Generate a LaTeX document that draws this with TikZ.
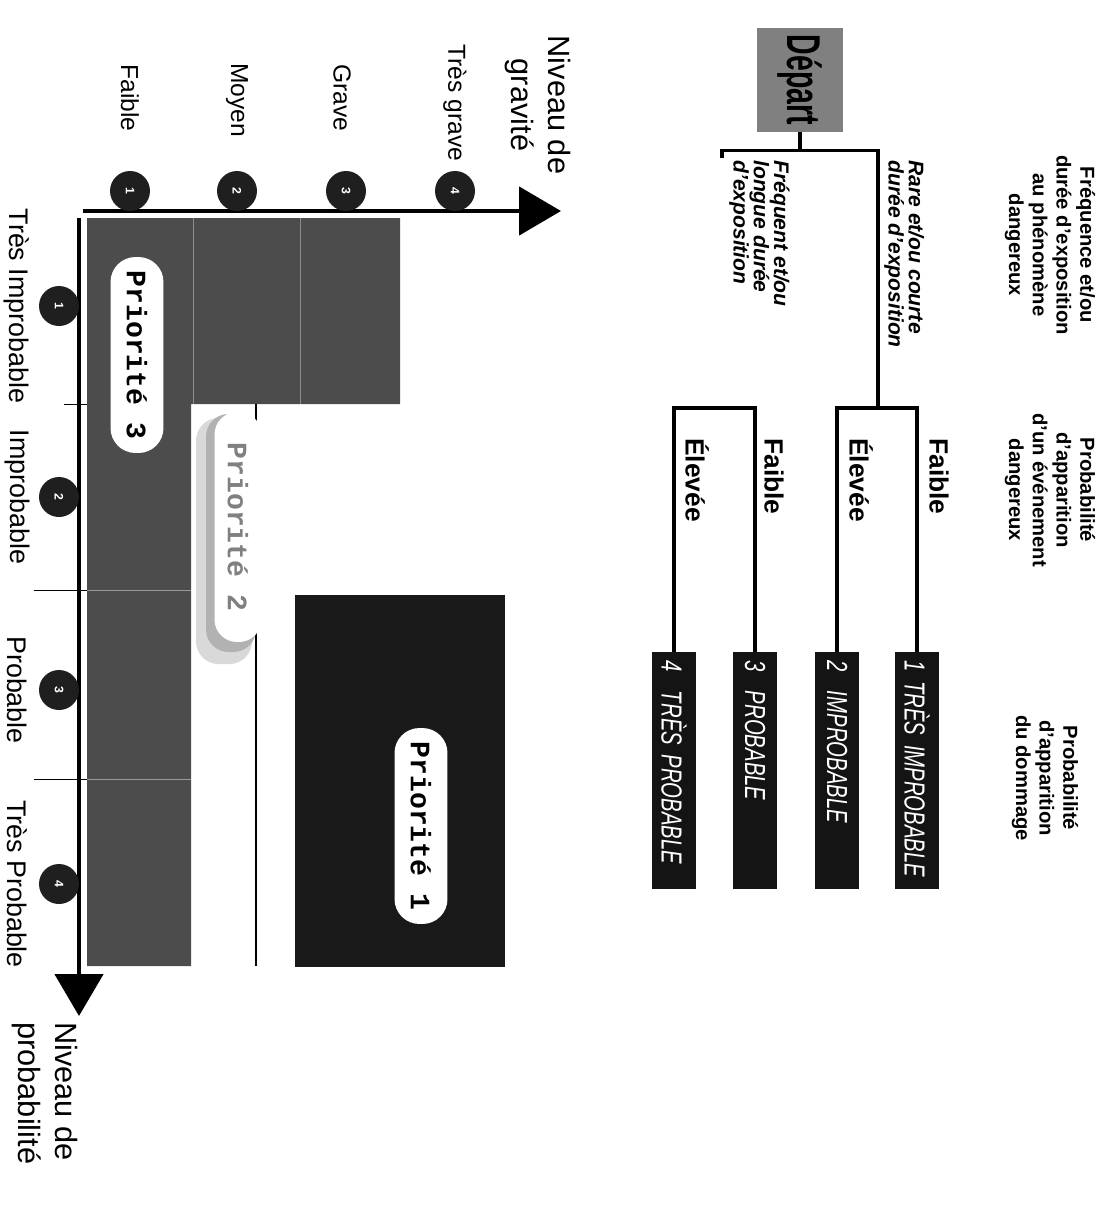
\documentclass[tikz,border=0pt]{standalone}
\usepackage{fontspec}
\setmainfont{Liberation Sans}
\newfontfamily\narrowfont[FakeStretch=0.70]{Liberation Sans}
\newfontfamily\departfont[FakeStretch=0.6]{Liberation Sans}
\newfontfamily\slabfont{Liberation Mono}
\usetikzlibrary{arrows.meta}

\begin{document}
\begin{tikzpicture}[x=0.02cm,y=-0.02cm]

\useasboundingbox (0,0) rectangle (1114,1228);

%%% Styles

\tikzstyle{treeline}=[line width=1.9pt]
\tikzstyle{header}=[rotate=-90, align=center, font=\bfseries\fontsize{11.5}{13.5}\selectfont]
\tikzstyle{branchlbl}=[rotate=-90, align=left, inner sep=0pt, anchor=south west,
  font=\bfseries\itshape\fontsize{12}{11.5}\selectfont]
\tikzstyle{choice}=[rotate=-90, inner sep=0pt, anchor=south west, font=\bfseries\fontsize{15}{15}\selectfont]
\tikzstyle{leaf}=[rotate=-90, anchor=west, fill=black!92, text=white, minimum height=0.88cm,
  text width=4.42cm, inner xsep=0.16cm, align=left, font=\narrowfont\itshape\fontsize{16.5}{17}\selectfont]
\tikzstyle{depart}=[rotate=-90, fill=black!50, minimum width=2.08cm, minimum height=1.72cm,
  inner sep=0pt, font=\departfont\bfseries\fontsize{27}{27}\selectfont]

\tikzstyle{axisline}=[line width=2.8pt, -{Triangle[length=0.84cm,width=0.96cm]}]
\tikzstyle{marble}=[circle, fill=black!88, minimum size=0.8cm, inner sep=0pt, text=white,
  rotate=-90, font=\bfseries\scriptsize]
\tikzstyle{level}=[rotate=-90, font=\fontsize{14}{14}\selectfont]
\tikzstyle{proba}=[rotate=-90, font=\fontsize{15.3}{15.3}\selectfont]
\tikzstyle{axistitle}=[rotate=-90, font=\fontsize{17.5}{21}\selectfont]
\tikzstyle{pill}=[rotate=-90, fill=white, rounded corners=0.5cm, minimum width=3.92cm,
  minimum height=1.06cm, inner sep=0pt, font=\slabfont\bfseries\fontsize{16}{16}\selectfont]
\tikzstyle{fine}=[line width=0.5pt]


%%% Tree (top right)

\node (dep) [depart] at (800,80) {Départ};

% Leaves
\node (p1) [leaf] at (917,652) {1 TRÈS IMPROBABLE};
\node (p2) [leaf] at (837,652) {2\ \ IMPROBABLE};
\node (p3) [leaf] at (755,652) {3\ \ PROBABLE};
\node (p4) [leaf] at (674,652) {4\ \ TRÈS PROBABLE};

% Branch points
\coordinate (rare) at (878,408);
\coordinate (freq) at (715,408);

\draw[treeline] (dep.east) -- ++(0,18) -| (rare);
\draw[treeline] (dep.east) ++(0,18) -- ++(-78,0) -- ++(0,8);
\draw[treeline] (p1.west) |- (rare) -| (p2.west);
\draw[treeline] (p3.west) |- (freq) -| (p4.west);

% Branch labels
\node (raretxt) [branchlbl] at (884,160) {Rare et/ou courte\\durée d'exposition};
\node (freqtxt) [branchlbl] at (729,160) {Fréquent et/ou\\longue durée\\d'exposition};

\node (f1) [choice] at (929,438) {Faible};
\node (e1) [choice] at (849,438) {Élevée};
\node (f2) [choice] at (764,438) {Faible};
\node (e2) [choice] at (685,438) {Élevée};

% Column headers
\node (h1) [header] at (1050,245) {Fréquence et/ou\\durée d'exposition\\au phénomène\\dangereux};
\node (h2) [header] at (1050,490) {Probabilité\\d'apparition\\d'un événement\\dangereux};
\node (h3) [header] at (1045,778) {Probabilité\\d'apparition\\du dommage};


%%% Chart (bottom left)

% Priorite 3 zone
\fill[black!70] (87,218) -- (400,218) -- (400,404) -- (191,404) -- (191,966) -- (87,966) -- cycle;

% Priorite 1 zone
\fill[black!90] (295,595) rectangle (505,967);

% Grid lines
\draw[fine, black!45] (193,218) -- (193,404);
\draw[fine, black!45] (300,218) -- (300,404);
\draw[fine] (64,404) -- (87,404);
\draw[fine] (34,590) -- (87,590);
\draw[fine] (34,779) -- (87,779);
\draw[fine, black!40] (87,590) -- (191,590);
\draw[fine, black!40] (87,779) -- (191,779);
\draw[line width=0.6pt] (256,404) -- (256,966);

% Priorite 2 label with its shadow
\fill[black!15, rounded corners=0.45cm] (196,418) rectangle (252,664);
\fill[black!30, rounded corners=0.45cm] (206,414) rectangle (256,652);
\node (prio2) [pill, rounded corners=0.45cm, minimum width=4.6cm, minimum height=0.94cm, text=black!50]
  at (238,527) {Priorité 2};

\node (prio3) [pill] at (137,355) {Priorité 3};
\node (prio1) [pill] at (421,826) {Priorité 1};

% Axes
\coordinate (gstart) at (83,211);
\coordinate (gend) at (561,211);
\coordinate (pstart) at (79,218);
\coordinate (pend) at (79,1016);

\draw[axisline] (gstart) -- (gend);
\draw[axisline] (pstart) -- (pend);

% Marbles
\foreach \n/\x in {1/130,2/237,3/346,4/455}
  \node (g\n) [marble] at (\x,191) {\n};
\foreach \n/\y in {1/306,2/497,3/690,4/884}
  \node (q\n) [marble] at (59,\y) {\n};

% Gravity levels
\node (gl1) [level] at (130,98) {Faible};
\node (gl2) [level] at (237,100) {Moyen};
\node (gl3) [level] at (342,98) {Grave};
\node (gl4) [level] at (455,103) {Très grave};

% Probability levels
\node (ql1) [proba] at (17,306) {Très Improbable};
\node (ql2) [proba] at (17,497) {Improbable};
\node (ql3) [proba] at (17,690) {Probable};
\node (ql4) [proba] at (17,884) {Très Probable};

% Axis titles
\node (gtitle) [axistitle, align=center] at (538,105) {Niveau de\\gravité};
\node (ptitle) [axistitle, align=left, anchor=north west, inner sep=0pt] at (78,1022) {Niveau de\\probabilité};

\end{tikzpicture}
\end{document}
